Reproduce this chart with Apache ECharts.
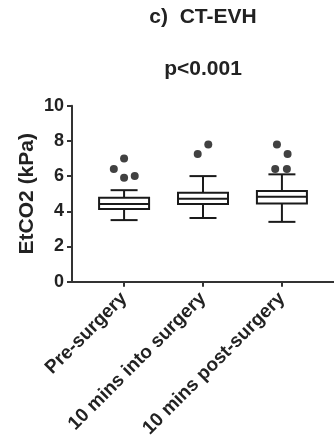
<!DOCTYPE html>
<html>
<head>
<meta charset="utf-8">
<script src="https://cdn.jsdelivr.net/npm/echarts@6/dist/echarts.min.js"></script>
<style>html,body{margin:0;padding:0;background:#fff}#c{width:334px;height:445px}</style>
</head>
<body>
<div id="c"></div>
<script>
const categories = ['Pre-surgery', '10 mins into surgery', '10 mins post-surgery'];
const positions = [1, 2, 3];
// [min whisker, Q1, median, Q3, max whisker]
const boxStats = [
  [3.5, 4.13, 4.41, 4.77, 5.2],
  [3.62, 4.42, 4.72, 5.05, 6.0],
  [3.4, 4.45, 4.82, 5.15, 6.1]
];
// outliers: [group position, horizontal jitter, value]
const outliers = [
  [1, 0, 7.0], [1, -0.13, 6.4], [1, 0, 5.9], [1, 0.135, 6.0],
  [2, -0.067, 7.25], [2, 0.067, 7.8],
  [3, -0.063, 7.8], [3, 0.072, 7.25], [3, -0.085, 6.4], [3, 0.063, 6.4]
];
const yTicks = [0, 2, 4, 6, 8, 10];
const titleText = 'c)  CT-EVH';
const pText = 'p<0.001';
const yName = 'EtCO2 (kPa)';

const FONT = '"Liberation Sans", Arial, Helvetica, sans-serif';
const INK = '#1a1a1a';

const boxData = boxStats.map((s, i) => [positions[i]].concat(s));
const outlierData = outliers.map(o => [o[0] + o[1], o[2]]);

const chart = echarts.init(document.getElementById('c'), null, {renderer: 'canvas'});
chart.setOption({
  animation: false,
  backgroundColor: '#fff',
  graphic: [
    {type: 'text', x: 203, y: 17, style: {text: titleText, font: 'bold 21px ' + FONT, fill: '#222', align: 'center', verticalAlign: 'middle', textAlign: 'center', textVerticalAlign: 'middle'}},
    {type: 'text', x: 203, y: 69, style: {text: pText, font: 'bold 21px ' + FONT, fill: '#222', align: 'center', verticalAlign: 'middle', textAlign: 'center', textVerticalAlign: 'middle'}}
  ],
  grid: {left: 72, right: 0, top: 105.7, bottom: 163.3, containLabel: false},
  xAxis: {
    type: 'value', min: 0.34, max: 3.66,
    splitLine: {show: false},
    axisLine: {show: true, onZero: false, lineStyle: {color: '#333', width: 2}},
    axisTick: {show: true, customValues: positions, length: 5, lineStyle: {color: '#333', width: 2}},
    axisLabel: {
      show: true, customValues: positions, rotate: 45, margin: 14,
      fontFamily: FONT, fontWeight: 'bold', fontSize: 19, color: '#222',
      formatter: v => categories[positions.indexOf(Math.round(v))] || ''
    }
  },
  yAxis: {
    type: 'value', min: 0, max: 10, interval: 2,
    name: yName, nameLocation: 'middle', nameGap: 34, nameRotate: 90,
    nameMoveOverlap: false,
    nameTextStyle: {fontFamily: FONT, fontWeight: 'bold', fontSize: 21, color: '#222'},
    splitLine: {show: false},
    axisLine: {show: true, onZero: false, lineStyle: {color: '#333', width: 2}},
    axisTick: {show: true, length: 5, lineStyle: {color: '#333', width: 2}},
    axisLabel: {margin: 8, fontFamily: FONT, fontWeight: 'bold', fontSize: 18, color: '#222',
      formatter: v => yTicks.indexOf(v) >= 0 ? String(v) : ''}
  },
  series: [
    {
      type: 'custom',
      data: boxData,
      encode: {x: 0, y: [1, 2, 3, 4, 5]},
      z: 2,
      renderItem: function (params, api) {
        const x = api.value(0);
        const pLo = api.coord([x, api.value(1)]);
        const pQ1 = api.coord([x, api.value(2)]);
        const pMed = api.coord([x, api.value(3)]);
        const pQ3 = api.coord([x, api.value(4)]);
        const pHi = api.coord([x, api.value(5)]);
        const cx = pLo[0];
        const hb = 25, hc = 13.5;
        const ls = {stroke: INK, lineWidth: 2, fill: null};
        return {
          type: 'group',
          children: [
            {type: 'line', shape: {x1: cx, y1: pLo[1], x2: cx, y2: pQ1[1]}, style: ls},
            {type: 'line', shape: {x1: cx, y1: pQ3[1], x2: cx, y2: pHi[1]}, style: ls},
            {type: 'line', shape: {x1: cx - hc, y1: pLo[1], x2: cx + hc, y2: pLo[1]}, style: ls},
            {type: 'line', shape: {x1: cx - hc, y1: pHi[1], x2: cx + hc, y2: pHi[1]}, style: ls},
            {type: 'rect', shape: {x: cx - hb, y: pQ3[1], width: 2 * hb, height: pQ1[1] - pQ3[1]}, style: {stroke: INK, lineWidth: 2, fill: '#fff'}},
            {type: 'line', shape: {x1: cx - hb, y1: pMed[1], x2: cx + hb, y2: pMed[1]}, style: ls}
          ]
        };
      }
    },
    {
      type: 'scatter',
      data: outlierData,
      symbol: 'circle',
      symbolSize: 8,
      z: 3,
      itemStyle: {color: '#111'}
    }
  ]
});
</script>
</body>
</html>
